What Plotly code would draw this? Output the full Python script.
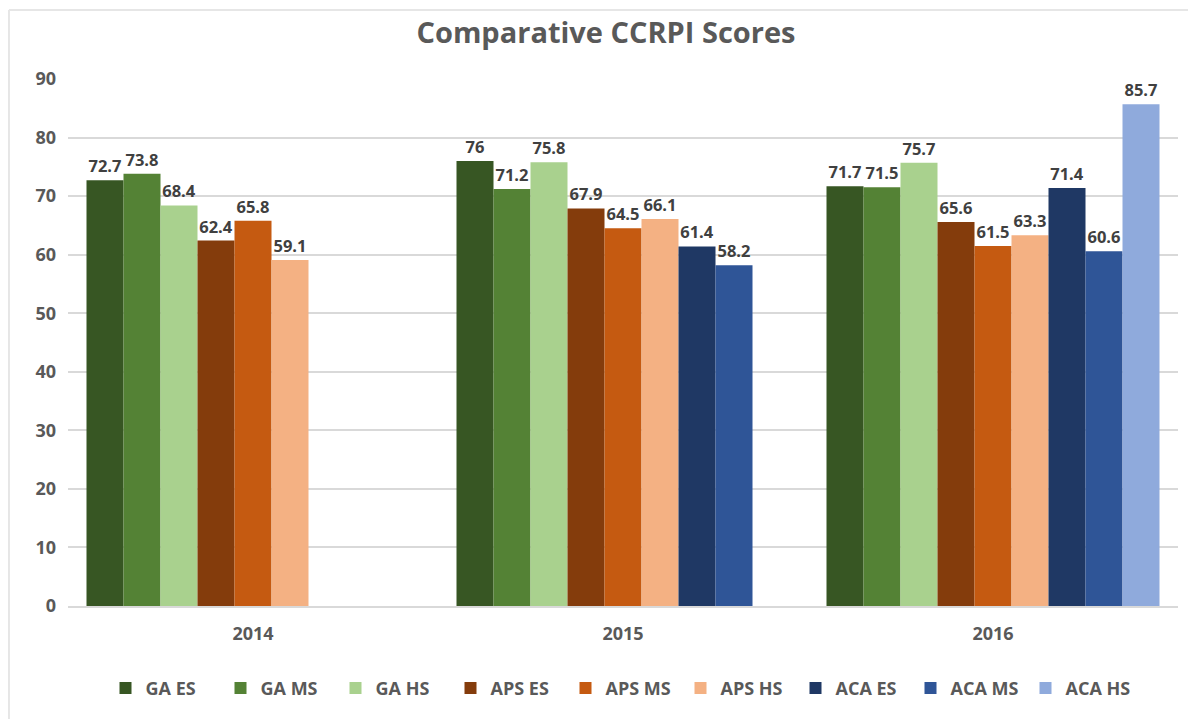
import plotly.graph_objects as go

years = ["2014", "2015", "2016"]
series_names = ["GA ES", "GA MS", "GA HS", "APS ES", "APS MS", "APS HS", "ACA ES", "ACA MS", "ACA HS"]
ga_es = [72.7, 76, 71.7]
ga_ms = [73.8, 71.2, 71.5]
ga_hs = [68.4, 75.8, 75.7]
aps_es = [62.4, 67.9, 65.6]
aps_ms = [65.8, 64.5, 61.5]
aps_hs = [59.1, 66.1, 63.3]
aca_es = [None, 61.4, 71.4]
aca_ms = [None, 58.2, 60.6]
aca_hs = [None, None, 85.7]
series_values = [ga_es, ga_ms, ga_hs, aps_es, aps_ms, aps_hs, aca_es, aca_ms, aca_hs]
colors = ["#375623", "#548235", "#A9D18E", "#843C0C", "#C55A11", "#F4B183", "#1F3864", "#2F5597", "#8FAADC"]

fig = go.Figure()
for name, vals, col in zip(series_names, series_values, colors):
    fig.add_trace(go.Bar(
        name=name, x=years, y=vals, marker=dict(color=col, line=dict(width=0)),
        text=[("" if v is None else f"{v:g}") for v in vals],
        textposition="outside", cliponaxis=False, constraintext="none",
        textfont=dict(family="Open Sans", size=16.5, color="#404040", weight="bold"),
    ))

fig.update_layout(
    width=1196, height=719,
    barmode="group", bargap=0.1, bargroupgap=0,
    plot_bgcolor="white", paper_bgcolor="white",
    margin=dict(l=60, r=26, t=71, b=121),
    title=dict(text="<b>Comparative CCRPI Scores</b>", x=0.5, xanchor="center", xref="container",
               y=0.965, yanchor="middle", yref="container",
               font=dict(family="Open Sans", size=29, color="#595959")),
    font=dict(family="Open Sans", color="#595959"),
    yaxis=dict(range=[0, 90], dtick=10, showgrid=True, gridcolor="#D9D9D9", gridwidth=1.5,
               zeroline=False, showline=False, ticks="", ticklabelstandoff=11,
               tickfont=dict(size=18, color="#595959", weight="bold")),
    xaxis=dict(showline=True, linecolor="#D9D9D9", linewidth=1.5, ticks="", ticklabelstandoff=11,
               tickfont=dict(size=18, color="#595959", weight="bold")),
    legend=dict(orientation="h", x=0.5, xanchor="center", y=-0.156, yanchor="middle",
                font=dict(size=18, color="#595959", weight="bold"), itemwidth=30,
                entrywidth=70, entrywidthmode="pixels", tracegroupgap=0),
    shapes=[
        dict(type="line", xref="paper", yref="paper", x0=-0.0532, x1=1.03, y0=1.131, y1=1.131,
             line=dict(color="#E6E6E6", width=2)),
        dict(type="line", xref="paper", yref="paper", x0=-0.0532, x1=-0.0532, y0=1.131, y1=-0.23,
             line=dict(color="#E6E6E6", width=2)),
    ],
)

fig.write_html("out.html")
